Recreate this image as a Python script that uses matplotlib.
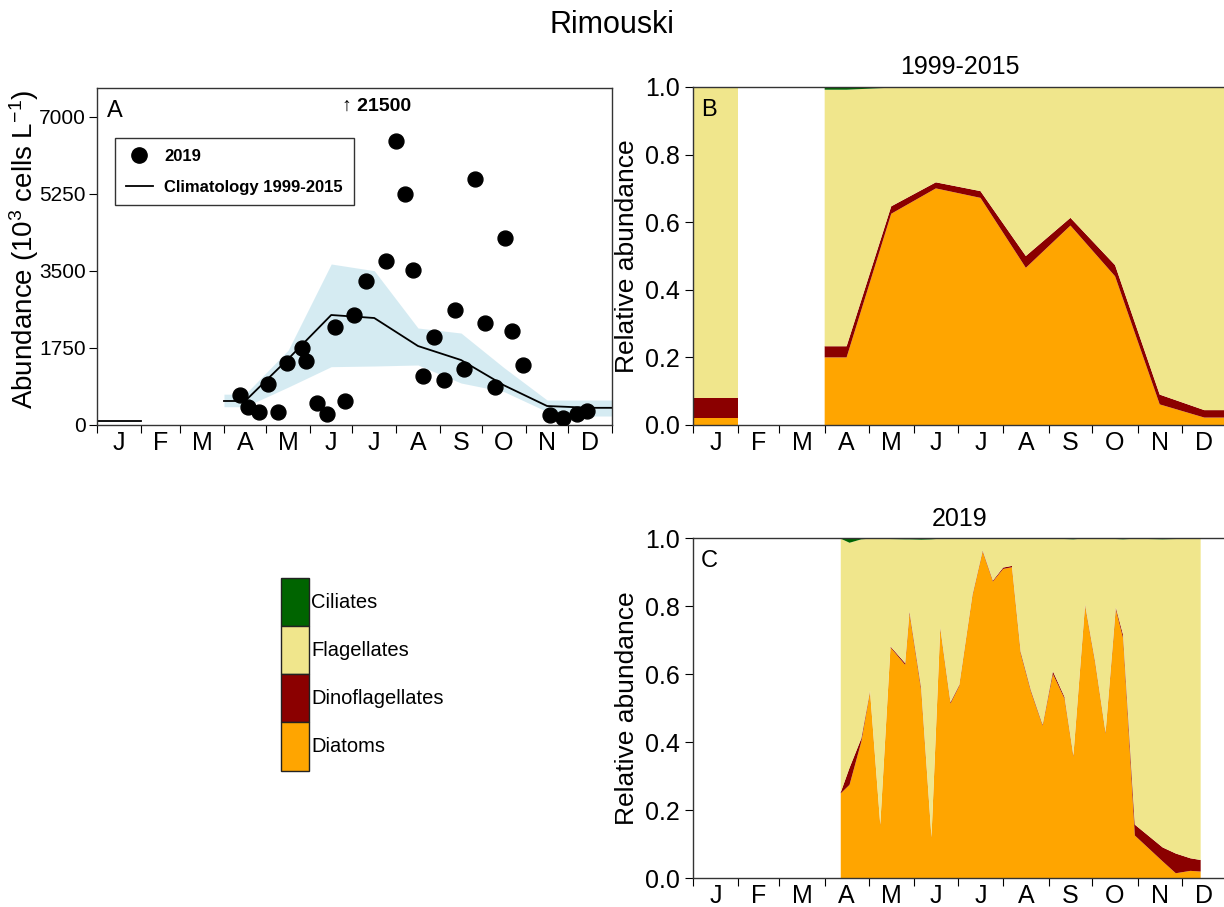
import numpy as np
import matplotlib
matplotlib.use('Agg')
import matplotlib.pyplot as plt
from matplotlib.patches import Patch
from matplotlib.lines import Line2D

plt.rcParams['font.family'] = ['Liberation Sans', 'DejaVu Sans']
plt.rcParams['mathtext.default'] = 'regular'

# ---- months ----
month_bounds = [0, 31, 59, 90, 120, 151, 181, 212, 243, 273, 304, 334, 365]
month_labels = ['J', 'F', 'M', 'A', 'M', 'J', 'J', 'A', 'S', 'O', 'N', 'D']

# ---- climatology 1999-2015 (monthly) ----
clim_months = [1, 4, 5, 6, 7, 8, 9, 10, 11, 12]
clim_mean = [80, 545, 1500, 2497, 2429, 1793, 1475, 900, 431, 390]
clim_lo = [60, 415, 860, 1324, 1339, 1362, 953, 756, 303, 204]
clim_hi = [100, 700, 1700, 3655, 3503, 2202, 2088, 1300, 567, 567]

clim_diatoms = [0.02, 0.20, 0.625, 0.70, 0.672, 0.465, 0.59, 0.44, 0.061, 0.022]
clim_dino = [0.06, 0.033, 0.022, 0.018, 0.020, 0.035, 0.023, 0.033, 0.029, 0.022]
clim_ciliates = [0.0, 0.008, 0.002, 0.001, 0.001, 0.002, 0.002, 0.003, 0.002, 0.001]

# ---- 2019 samples ----
days_2019 = [101, 107, 115, 121, 128, 135, 145, 148, 156, 163, 169, 176, 182, 191,
             198, 205, 212, 218, 224, 231, 239, 246, 254, 260, 268, 275, 282, 289,
             294, 302, 321, 330, 340, 347]
abund_2019 = [680, 415, 294, 936, 287, 1412, 1744, 1450, 506, 257, 2235, 551, 2507, 3277,
              21500, 3723, 6441, 5248, 3526, 1118, 1993, 1019, 2613, 1276, 5588, 2318, 861, 4236,
              2129, 1352, 219, 166, 242, 317]
diatoms_2019 = [0.249, 0.274, 0.40, 0.548, 0.155, 0.678, 0.627, 0.778, 0.55, 0.118, 0.733, 0.513,
                0.565, 0.83, 0.96, 0.872, 0.909, 0.914, 0.66, 0.548, 0.448, 0.60, 0.527, 0.357,
                0.80, 0.63, 0.425, 0.79, 0.705, 0.125, 0.049, 0.014, 0.021, 0.019]
dino_2019 = [0.003, 0.05, 0.01, 0.003, 0.002, 0.003, 0.005, 0.006, 0.008, 0.002, 0.004, 0.004,
             0.003, 0.003, 0.003, 0.003, 0.004, 0.004, 0.005, 0.004, 0.003, 0.008, 0.005, 0.003,
             0.004, 0.004, 0.003, 0.006, 0.01, 0.032, 0.041, 0.058, 0.037, 0.034]
ciliates_2019 = [0.002, 0.014, 0.004, 0.002, 0.001, 0.003, 0.004, 0.004, 0.005, 0.004, 0.002, 0.001,
                 0.001, 0.001, 0.001, 0.001, 0.001, 0.001, 0.002, 0.001, 0.001, 0.001, 0.003, 0.004,
                 0.001, 0.001, 0.001, 0.003, 0.004, 0.002, 0.004, 0.003, 0.001, 0.001]

groups = ['Ciliates', 'Flagellates', 'Dinoflagellates', 'Diatoms']
colors = {'Ciliates': '#006400', 'Flagellates': '#F0E68C',
          'Dinoflagellates': '#8B0000', 'Diatoms': '#FFA500'}

FS = 18


def month_segments(months, *series):
    """split monthly values into runs of consecutive months, padded to month edges"""
    runs = []
    cur = [0]
    for i in range(1, len(months)):
        if months[i] == months[i - 1] + 1:
            cur.append(i)
        else:
            runs.append(cur)
            cur = [i]
    runs.append(cur)
    out = []
    for r in runs:
        m0, m1 = months[r[0]], months[r[-1]]
        mids = [(month_bounds[months[i] - 1] + month_bounds[months[i]]) / 2 for i in r]
        x = [month_bounds[m0 - 1]] + mids + [month_bounds[m1]]
        ys = []
        for s in series:
            v = [s[i] for i in r]
            ys.append(np.array([v[0]] + v + [v[-1]]))
        out.append((np.array(x), ys))
    return out


def month_axis(ax, ysize=FS, ypad=3.5):
    ax.set_xlim(0, 365)
    ax.set_xticks(month_bounds)
    ax.set_xticklabels([])
    mids = [(month_bounds[i] + month_bounds[i + 1]) / 2 for i in range(12)]
    ax.set_xticks(mids, minor=True)
    ax.set_xticklabels(month_labels, minor=True, fontsize=FS)
    ax.tick_params(axis='x', which='major', length=6, direction='out')
    ax.tick_params(axis='x', which='minor', length=0, pad=4)
    ax.tick_params(axis='y', labelsize=ysize, length=6, direction='out', pad=ypad)
    for s in ax.spines.values():
        s.set_linewidth(1.0)
        s.set_color('#333333')


def stack(ax, x, dia, dino, cil):
    dia = np.asarray(dia)
    dino = np.asarray(dino)
    cil = np.asarray(cil)
    flag = 1 - dia - dino - cil
    ax.stackplot(x, dia, dino, flag, cil,
                 colors=[colors['Diatoms'], colors['Dinoflagellates'],
                         colors['Flagellates'], colors['Ciliates']],
                 linewidth=0)


fig = plt.figure(figsize=(12.24, 9.07), dpi=100)
W, H = 1224, 907

def px_axes(l, t, r, b):
    return fig.add_axes([l / W, 1 - b / H, (r - l) / W, (b - t) / H])

axA = px_axes(97, 88, 612, 425)
axB = px_axes(693, 87, 1227, 425)
axC = px_axes(693, 538, 1227, 878)

# ---- panel A ----
for x, (m, lo, hi) in month_segments(clim_months, clim_mean, clim_lo, clim_hi):
    axA.fill_between(x, lo, hi, color='#ADD8E6', alpha=0.5, linewidth=0)
    axA.plot(x, m, color='black', lw=1.3)
axA.scatter(days_2019, abund_2019, s=115, color='black', zorder=3)
axA.set_ylim(0, 7650)
axA.set_yticks([0, 1750, 3500, 5250, 7000])
month_axis(axA, ysize=15, ypad=2)
axA.set_ylabel('Abundance (10$^3$ cells L$^{-1}$)', fontsize=20)
axA.yaxis.set_label_coords(-0.108, 0.52)
off = [i for i, v in enumerate(abund_2019) if v > 7650]
for i in off:
    axA.text(days_2019[i], 7230, '\u2191 %d' % abund_2019[i], ha='center', va='center',
             fontsize=14, fontweight='bold', family=['Liberation Sans', 'DejaVu Sans'])
axA.text(0.02, 0.965, 'A', transform=axA.transAxes, fontsize=17, va='top')
hA = [Line2D([], [], marker='o', color='black', ls='none', markersize=11),
      Line2D([], [], color='black', lw=1.3)]
legA = axA.legend(hA, ['2019', 'Climatology 1999-2015'], loc='upper left',
                  bbox_to_anchor=(0.035, 0.852), fancybox=False, edgecolor='black',
                  prop={'weight': 'bold', 'size': 12}, borderpad=0.65, handlelength=1.6,
                  handletextpad=0.7, labelspacing=0.95, borderaxespad=0)
legA.get_frame().set_linewidth(1.0)

# ---- panel B ----
for x, (dia, dino, cil) in month_segments(clim_months, clim_diatoms, clim_dino, clim_ciliates):
    stack(axB, x, dia, dino, cil)
axB.set_ylim(0, 1)
axB.set_yticks([0, 0.2, 0.4, 0.6, 0.8, 1.0])
axB.set_yticklabels(['0.0', '0.2', '0.4', '0.6', '0.8', '1.0'])
axB.set_ylabel('Relative abundance', fontsize=19, labelpad=4)
axB.set_title('1999-2015', fontsize=FS, pad=9)
month_axis(axB)
axB.text(0.015, 0.965, 'B', transform=axB.transAxes, fontsize=17, va='top')

# ---- panel C ----
stack(axC, days_2019, diatoms_2019, dino_2019, ciliates_2019)
axC.set_ylim(0, 1)
axC.set_yticks([0, 0.2, 0.4, 0.6, 0.8, 1.0])
axC.set_yticklabels(['0.0', '0.2', '0.4', '0.6', '0.8', '1.0'])
axC.set_ylabel('Relative abundance', fontsize=19, labelpad=4)
axC.set_title('2019', fontsize=FS, pad=9)
month_axis(axC)
axC.text(0.015, 0.965, 'C', transform=axC.transAxes, fontsize=17, va='top')

# ---- group legend ----
handles = [Patch(facecolor=colors[g], edgecolor='#222222', linewidth=1.0) for g in groups]
fig.legend(handles, groups, loc='upper left', bbox_to_anchor=(281 / W, 1 - 578 / H),
           frameon=False, fontsize=14.5, handlelength=1.4, handleheight=3.3,
           labelspacing=0.0, handletextpad=0.1, borderpad=0, borderaxespad=0)

fig.text(612 / W, 1 - 25 / H, 'Rimouski', ha='center', va='center', fontsize=22)

fig.savefig('out.png', dpi=100)
